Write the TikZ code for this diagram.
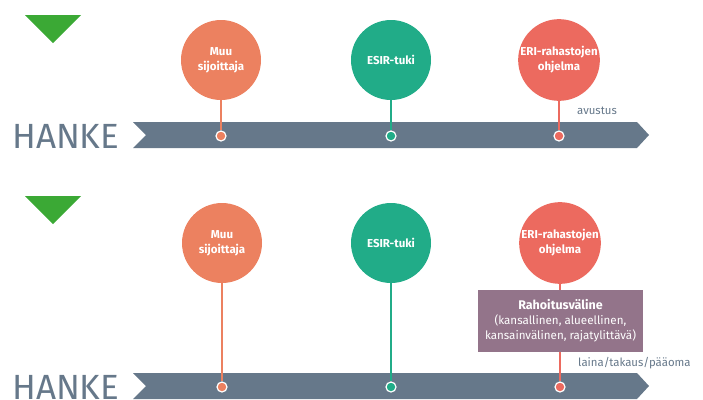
\documentclass[tikz,border=0pt]{standalone}
\usepackage{fontspec}
\setmainfont{Fira Sans}
\definecolor{barc}{HTML}{66788A}
\definecolor{orangec}{HTML}{EC8160}
\definecolor{greenc}{HTML}{21AC88}
\definecolor{redc}{HTML}{EC6A5F}
\definecolor{mauvec}{HTML}{93748A}
\definecolor{trig}{HTML}{3BA935}
\tikzset{
  bubble/.style={circle, minimum size=80pt, inner sep=0pt, text=white, font=\fontsize{11.5}{15}\selectfont\bfseries, align=center},
  dotc/.style={circle, minimum size=10pt, inner sep=0pt, draw=white, line width=1.2pt},
  stem/.style={line width=1.8pt},
  hanke/.style={text=barc, font=\fontsize{35}{35}\selectfont, anchor=base west, inner sep=0pt},
  small/.style={text=barc, font=\fontsize{11.4}{13}\selectfont, anchor=base west, inner sep=0pt},
  infobox/.style={fill=mauvec, text=white, minimum width=165pt, minimum height=62pt, inner sep=0pt, align=center, font=\fontsize{11.6}{15}\selectfont}
}
\begin{document}
\begin{tikzpicture}[x=1pt,y=-1pt]
\useasboundingbox (0,0) rectangle (703,399);
% ---------- top ----------
\fill[trig] (25,15) -- (81,15) -- (53,43) -- cycle;
\node[hanke] (h1) at (12,148) {HANKE};
\fill[barc] (133,122) -- (637,122) -- (649,135) -- (637,148) -- (133,148) -- (146,135) -- cycle;
\node[bubble, fill=orangec] (a1) at (221,60) {Muu\\sijoittaja};
\node[bubble, fill=greenc] (b1) at (391,60) {ESIR-tuki};
\node[bubble, fill=redc] (c1) at (559,60) {ERI-rahastojen\\ohjelma};
\node[dotc, fill=orangec] (da1) at (221,136) {};
\node[dotc, fill=greenc] (db1) at (391,136) {};
\node[dotc, fill=redc] (dc1) at (559,136) {};
\draw[stem, orangec] (a1.south) -- (da1.north);
\draw[stem, greenc] (b1.south) -- (db1.north);
\draw[stem, redc] (c1.south) -- (dc1.north);
\node[small] (av) at (577,114) {avustus};
% ---------- bottom ----------
\fill[trig] (25,196) -- (81,196) -- (53,224) -- cycle;
\node[hanke] (h2) at (12,399) {HANKE};
\fill[barc] (133,373) -- (637,373) -- (649,386) -- (637,399) -- (133,399) -- (146,386) -- cycle;
\node[bubble, fill=orangec] (a2) at (222,243) {Muu\\sijoittaja};
\node[bubble, fill=greenc] (b2) at (391,243) {ESIR-tuki};
\node[bubble, fill=redc] (c2) at (560,243) {ERI-rahastojen\\ohjelma};
\node[dotc, fill=orangec] (da2) at (222,387) {};
\node[dotc, fill=greenc] (db2) at (391,387) {};
\node[dotc, fill=redc] (dc2) at (560,387) {};
\draw[stem, orangec] (a2.south) -- (da2.north);
\draw[stem, greenc] (b2.south) -- (db2.north);
\draw[stem, redc] (c2.south) -- (dc2.north);
\node[infobox] (box) at (560.5,321) {{\fontsize{12.5}{15}\selectfont\bfseries Rahoitusväline}\\(kansallinen, alueellinen,\\kansainvälinen, rajatylittävä)};
\node[small] (ln) at (578,366) {laina/takaus/pääoma};
\end{tikzpicture}
\end{document}
